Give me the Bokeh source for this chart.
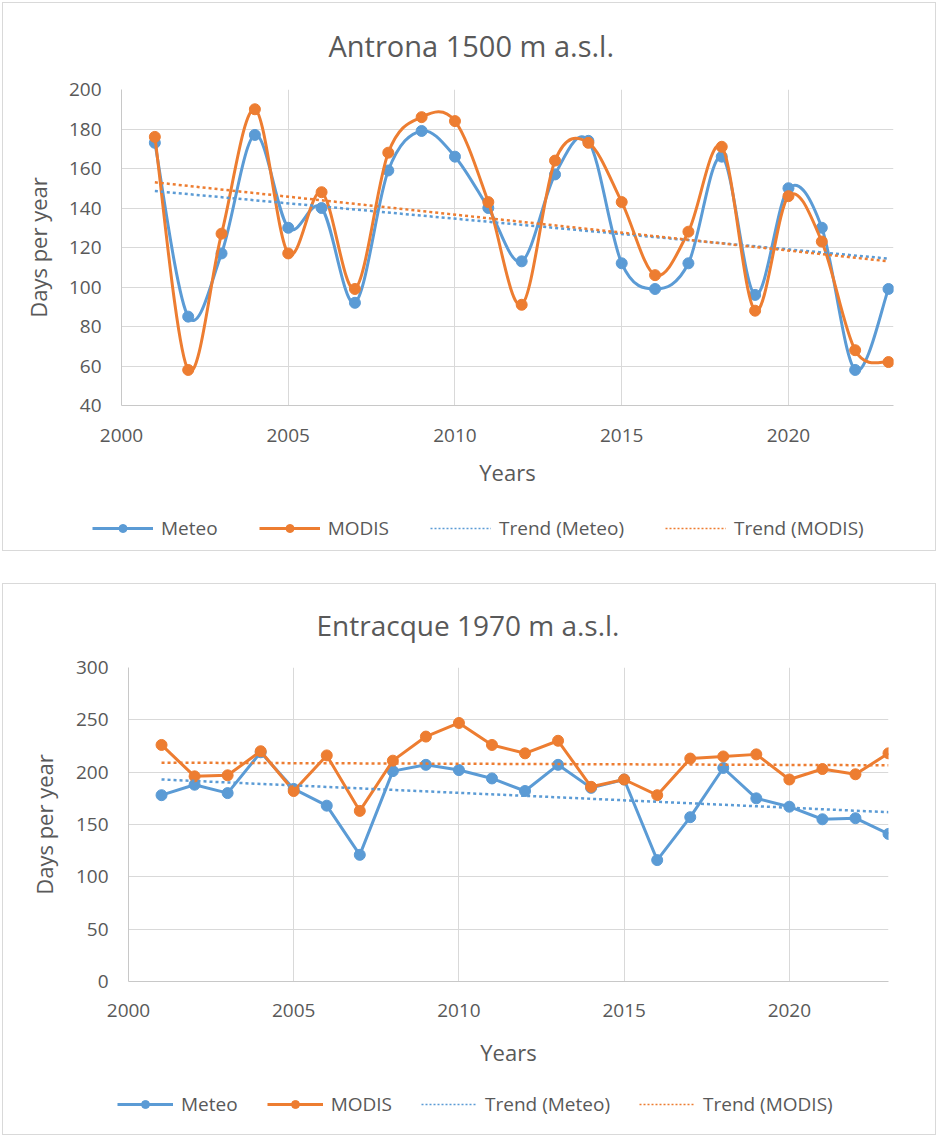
import numpy as np
from bokeh.plotting import figure
from bokeh.models import Legend, LegendItem, Title, FixedTicker, Range1d
from bokeh.layouts import column
from bokeh.embed import file_html
from bokeh.resources import INLINE

# ---------------- data ----------------
years = list(range(2001, 2024))
antrona_meteo = [173, 85, 117, 177, 130, 140, 92, 159, 179, 166, 140, 113,
                 157, 174, 112, 99, 112, 166, 96, 150, 130, 58, 99]
antrona_modis = [176, 58, 127, 190, 117, 148, 99, 168, 186, 184, 143, 91,
                 164, 173, 143, 106, 128, 171, 88, 146, 123, 68, 62]
entracque_meteo = [178, 188, 180, 219, 184, 168, 121, 201, 207, 202, 194, 182,
                   207, 185, 193, 116, 157, 204, 175, 167, 155, 156, 141]
entracque_modis = [226, 196, 197, 220, 182, 216, 163, 211, 234, 247, 226, 218,
                   230, 186, 193, 178, 213, 215, 217, 193, 203, 198, 218]
x_ticks = [2000, 2005, 2010, 2015, 2020]
antrona_y_ticks = [40, 60, 80, 100, 120, 140, 160, 180, 200]
entracque_y_ticks = [0, 50, 100, 150, 200, 250, 300]
series_names = ["Meteo", "MODIS", "Trend (Meteo)", "Trend (MODIS)"]

BLUE = "#5B9BD5"
ORANGE = "#ED7D31"
TXT = "#595959"
GRID = "#d9d9d9"
FONT = "Open Sans"
LINE_W = 3
DOT_W = 2.5
MARKER = 11


def bezier_parts(xs, ys):
    x = np.asarray(xs, float)
    y = np.asarray(ys, float)
    n = len(x)
    xp = np.concatenate([[x[0]], x, [x[-1]]])
    yp = np.concatenate([[y[0]], y, [y[-1]]])
    return dict(
        x0=xp[1:n], y0=yp[1:n], x1=xp[2:n + 1], y1=yp[2:n + 1],
        cx0=xp[1:n] + (xp[2:n + 1] - xp[0:n - 1]) / 6.0,
        cy0=yp[1:n] + (yp[2:n + 1] - yp[0:n - 1]) / 6.0,
        cx1=xp[2:n + 1] - (xp[3:n + 2] - xp[1:n]) / 6.0,
        cy1=yp[2:n + 1] - (yp[3:n + 2] - yp[1:n]) / 6.0,
    )


def make_chart(title, meteo, modis, y_ticks, height, borders, x_end,
               smooth, title_size, title_offset, title_standoff,
               xtick_standoff, xlabel_standoff, ylabel_standoff):
    bl, br, bt, bb = borders
    p = figure(width=938, height=height, output_backend="svg",
               toolbar_location=None,
               x_range=Range1d(2000, x_end),
               y_range=Range1d(y_ticks[0], y_ticks[-1]),
               min_border_left=bl, min_border_right=br,
               min_border_top=bt, min_border_bottom=bb)
    p.outline_line_color = None
    p.background_fill_color = None
    p.border_fill_color = None

    t = Title(text=title, align="left", vertical_align="middle", text_font=FONT,
              text_font_size=title_size, text_font_style="normal",
              text_color=TXT, offset=title_offset, standoff=title_standoff)
    p.add_layout(t, "above")

    for ax in (p.xaxis[0], p.yaxis[0]):
        ax.major_tick_line_color = None
        ax.minor_tick_line_color = None
        ax.major_tick_out = 0
        ax.major_tick_in = 0
        ax.axis_line_color = "#c8c8c8"
        ax.major_label_text_font = FONT
        ax.major_label_text_font_size = "19px"
        ax.major_label_text_color = TXT
        ax.axis_label_text_font = FONT
        ax.axis_label_text_font_size = "22px"
        ax.axis_label_text_font_style = "normal"
        ax.axis_label_text_color = TXT
    p.xaxis.ticker = FixedTicker(ticks=x_ticks)
    p.yaxis.ticker = FixedTicker(ticks=y_ticks)
    p.xaxis.axis_label = "Years"
    p.yaxis.axis_label = "Days per year"
    p.xaxis.major_label_standoff = xtick_standoff
    p.xaxis.axis_label_standoff = xlabel_standoff
    p.yaxis.major_label_standoff = 20
    p.yaxis.axis_label_standoff = ylabel_standoff
    p.xgrid.grid_line_color = GRID
    p.ygrid.grid_line_color = GRID

    for vals, color in ((meteo, BLUE), (modis, ORANGE)):
        if smooth:
            p.bezier(line_color=color, line_width=LINE_W, **bezier_parts(years, vals))
        else:
            p.line(x=years, y=vals, line_color=color, line_width=LINE_W)
        p.scatter(x=years, y=vals, size=MARKER, fill_color=color, line_color=color)

    for vals, color in ((meteo, BLUE), (modis, ORANGE)):
        coef = np.polyfit(years, vals, 1)
        ends = [years[0], years[-1]]
        p.line(x=ends, y=list(np.polyval(coef, ends)), line_color=color,
               line_width=DOT_W, line_dash="3 3")
    return p


def make_legend(height, loc, glyph_w, spacing):
    lf = figure(width=938, height=height, output_backend="svg",
                toolbar_location=None, x_axis_type=None, y_axis_type=None,
                x_range=Range1d(0, 1), y_range=Range1d(0, 1),
                min_border_left=0, min_border_right=0,
                min_border_top=0, min_border_bottom=0)
    lf.outline_line_color = None
    lf.background_fill_color = None
    lf.border_fill_color = None
    lf.grid.visible = False
    items = []
    for color, name in ((BLUE, series_names[0]), (ORANGE, series_names[1])):
        ln = lf.line(x=[np.nan], y=[np.nan], line_color=color, line_width=LINE_W)
        sc = lf.scatter(x=[np.nan], y=[np.nan], size=MARKER, fill_color=color,
                        line_color=color)
        items.append(LegendItem(label=name, renderers=[ln, sc]))
    for color, name in ((BLUE, series_names[2]), (ORANGE, series_names[3])):
        ln = lf.line(x=[np.nan], y=[np.nan], line_color=color, line_width=1.5,
                     line_dash="2 2")
        items.append(LegendItem(label=name, renderers=[ln]))
    leg = Legend(items=items, orientation="horizontal", location=loc,
                 padding=0, margin=0, border_line_color=None,
                 background_fill_alpha=0, glyph_width=glyph_w,
                 glyph_height=20, label_standoff=8, spacing=spacing,
                 label_text_font=FONT, label_text_font_size="19px",
                 label_text_color=TXT)
    lf.add_layout(leg)
    return lf


p1 = make_chart("Antrona 1500 m a.s.l.", antrona_meteo, antrona_modis,
                antrona_y_ticks, 500, (121, 45, 89, 95), 2023.15, True,
                "29px", 207, 47, 23, 12, 13)
l1 = make_legend(53, (92, 12), 61, 41)
p2 = make_chart("Entracque 1970 m a.s.l.", entracque_meteo, entracque_modis,
                entracque_y_ticks, 500, (128, 50, 86, 100), 2023.0, False,
                "28px", 188, 46, 22, 17, 14)
l2 = make_legend(56, (117, 20), 56, 29)

box_style = {"box-shadow": "inset 0 0 0 2px white, inset 0 0 0 3px #d9d9d9"}
b1 = column(p1, column(l1), spacing=0, width=938, height=553, styles=box_style)
b2 = column(p2, column(l2), spacing=0, width=938, height=556, styles=box_style)
layout = column(b1, b2, spacing=28)
open("out.html", "w").write(file_html(layout, INLINE))
